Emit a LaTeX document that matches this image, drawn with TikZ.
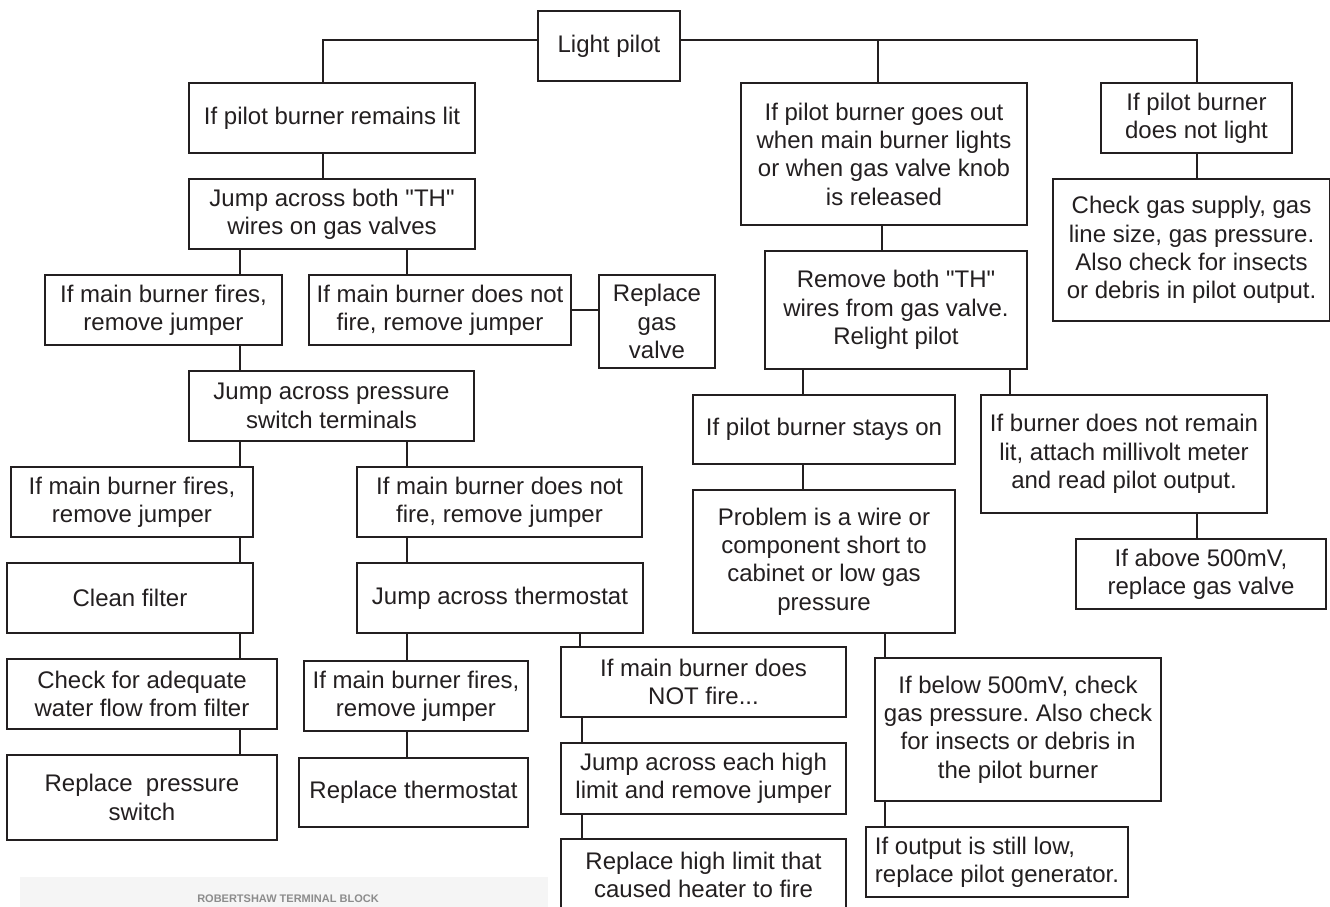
\documentclass[tikz,border=0pt]{standalone}
\usepackage{fontspec}
\setmainfont{Liberation Sans}
\definecolor{ink}{HTML}{231F20}
\frenchspacing
\begin{document}
\begin{tikzpicture}[x=1pt,y=-1pt,
  bx/.style={draw=ink, line width=2pt, text=ink, anchor=north west, align=center,
    inner sep=0pt, font=\fontsize{24}{28.3}\selectfont},
  ln/.style={draw=ink, line width=2pt}]
\useasboundingbox (0,0) rectangle (1330,907);
\clip (0,0) rectangle (1330,907);
\fill[white] (0,0) rectangle (1330,907);
% faint label band
\fill[black!4] (20,877) rectangle (548,907);
\node[font=\fontsize{11}{12}\selectfont\bfseries, text=black!45] (rtb) at (288,899) {ROBERTSHAW TERMINAL BLOCK};
% boxes
\node[bx, minimum width=142pt, minimum height=70pt] (light) at (537,10) {Light pilot};
\node[bx, minimum width=286pt, minimum height=70pt] (lit) at (188,82) {If pilot burner remains lit};
\node[bx, minimum width=286pt, minimum height=70pt] (jumpTH) at (188,178) {Jump across both \textquotedbl TH\textquotedbl\\wires on gas valves};
\node[bx, minimum width=237pt, minimum height=70pt] (fires1) at (44,274) {If main burner fires,\\remove jumper};
\node[bx, minimum width=262pt, minimum height=70pt] (nofire1) at (308,274) {If main burner does not\\fire, remove jumper};
\node[bx, minimum width=116pt, minimum height=93pt] (repgv) at (598,274) {Replace\\gas\\valve};
\node[bx, minimum width=285pt, minimum height=70pt] (jumpPS) at (188,370) {Jump across pressure\\switch terminals};
\node[bx, minimum width=242pt, minimum height=70pt] (fires2) at (10,466) {If main burner fires,\\remove jumper};
\node[bx, minimum width=285pt, minimum height=70pt] (nofire2) at (356,466) {If main burner does not\\fire, remove jumper};
\node[bx, minimum width=246pt, minimum height=70pt] (clean) at (6,562) {Clean filter};
\node[bx, minimum width=270pt, minimum height=70pt] (checkw) at (6,658) {Check for adequate\\water flow from filter};
\node[bx, minimum width=270pt, minimum height=85pt] (reppsw) at (6,754) {Replace\ \ pressure\\switch};
\node[bx, minimum width=286pt, minimum height=70pt] (jumpT) at (356,562) {Jump across thermostat};
\node[bx, minimum width=224pt, minimum height=70pt] (fires3) at (303,660) {If main burner fires,\\remove jumper};
\node[bx, minimum width=229pt, minimum height=69pt] (repT) at (298,757) {Replace thermostat};
\node[bx, minimum width=285pt, minimum height=70pt] (notfire) at (560,646) {If main burner does\\NOT fire...};
\node[bx, minimum width=285pt, minimum height=71pt] (jumpHL) at (560,742) {Jump across each high\\limit and remove jumper};
\node[bx, minimum width=285pt, minimum height=72pt] (repHL) at (560,838) {Replace high limit that\\caused heater to fire};
\node[bx, minimum width=286pt, minimum height=142pt] (goesout) at (740,82) {If pilot burner goes out\\when main burner lights\\or when gas valve knob\\is released};
\node[bx, minimum width=191pt, minimum height=70pt] (notlight) at (1100,82) {If pilot burner\\does not light};
\node[bx, minimum width=277pt, minimum height=142pt] (checkgas) at (1052,178) {Check gas supply, gas\\line size, gas pressure.\\Also check for insects\\or debris in pilot output.};
\node[bx, minimum width=262pt, minimum height=118pt] (remove) at (764,250) {Remove both \textquotedbl TH\textquotedbl\\wires from gas valve.\\Relight pilot};
\node[bx, minimum width=262pt, minimum height=69pt] (stayson) at (692,394) {If pilot burner stays on};
\node[bx, minimum width=262pt, minimum height=143pt] (problem) at (692,489) {Problem is a wire or\\component short to\\cabinet or low gas\\pressure};
\node[bx, minimum width=286pt, minimum height=118pt] (notremain) at (980,394) {If burner does not remain\\lit, attach millivolt meter\\and read pilot output.};
\node[bx, minimum width=250pt, minimum height=70pt] (above) at (1075,538) {If above 500mV,\\replace gas valve};
\node[bx, minimum width=286pt, minimum height=143pt] (below) at (874,657) {If below 500mV, check\\gas pressure. Also check\\for insects or debris in\\the pilot burner};
\node[bx, align=left, minimum width=262pt, minimum height=70pt] (stilllow) at (865,826) {If output is still low,\\replace pilot generator.};
% connector x positions
\coordinate (x240) at (240,0);
\coordinate (x323) at (323,0);
\coordinate (x407) at (407,0);
\coordinate (x580) at (580,0);
\coordinate (x582) at (582,0);
\coordinate (x803) at (803,0);
\coordinate (x878) at (878,0);
\coordinate (x882) at (882,0);
\coordinate (x885) at (885,0);
\coordinate (x1010) at (1010,0);
\coordinate (x1197) at (1197,0);
% top connectors
\coordinate (lw) at ([yshift=6pt]light.west);
\coordinate (le) at ([yshift=6pt]light.east);
\draw[ln] (lw) -| (lit.north -| x323);
\draw[ln] (le) -| (notlight.north);
\draw[ln] (le -| x878) -- (goesout.north -| x878);
% left branch
\draw[ln] (lit.south -| x323) -- (jumpTH.north -| x323);
\draw[ln] (jumpTH.south -| x240) -- (fires1.north -| x240);
\draw[ln] (jumpTH.south -| x407) -- (nofire1.north -| x407);
\draw[ln] (nofire1.east) -- (nofire1.east -| repgv.west);
\draw[ln] (fires1.south -| x240) -- (jumpPS.north -| x240);
\draw[ln] (jumpPS.south -| x240) -- (fires2.north -| x240);
\draw[ln] (jumpPS.south -| x407) -- (nofire2.north -| x407);
\draw[ln] (fires2.south -| x240) -- (clean.north -| x240);
\draw[ln] (clean.south -| x240) -- (checkw.north -| x240);
\draw[ln] (checkw.south -| x240) -- (reppsw.north -| x240);
\draw[ln] (nofire2.south -| x407) -- (jumpT.north -| x407);
\draw[ln] (jumpT.south -| x407) -- (fires3.north -| x407);
\draw[ln] (fires3.south -| x407) -- (repT.north -| x407);
\draw[ln] (jumpT.south -| x580) -- (notfire.north -| x580);
\draw[ln] (notfire.south -| x582) -- (jumpHL.north -| x582);
\draw[ln] (jumpHL.south -| x582) -- (repHL.north -| x582);
% right branches
\draw[ln] (goesout.south -| x882) -- (remove.north -| x882);
\draw[ln] (notlight.south -| x1197) -- (checkgas.north -| x1197);
\draw[ln] (remove.south -| x803) -- (stayson.north -| x803);
\draw[ln] (remove.south -| x1010) -- (notremain.north -| x1010);
\draw[ln] (stayson.south -| x803) -- (problem.north -| x803);
\draw[ln] (notremain.south -| x1197) -- (above.north -| x1197);
\draw[ln] (problem.south -| x885) -- (below.north -| x885);
\draw[ln] (below.south -| x885) -- (stilllow.north -| x885);
\end{tikzpicture}
\end{document}
